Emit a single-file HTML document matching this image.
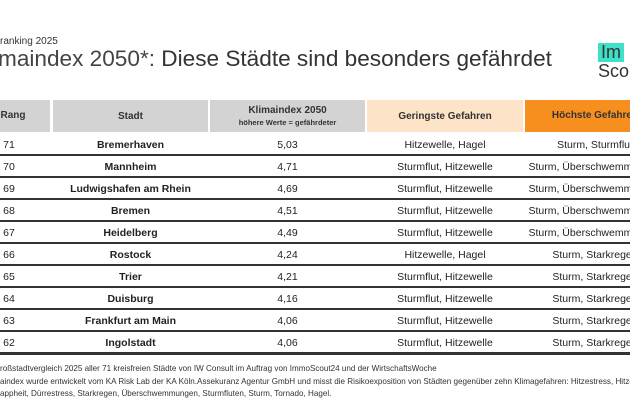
<!DOCTYPE html>
<html><head><meta charset="utf-8"><style>
html,body{margin:0;width:630px;height:412px;overflow:hidden;background:#fff}
#wrap{position:relative;width:630px;height:412px;overflow:hidden;font-family:"Liberation Sans",sans-serif;color:#222}
.a{position:absolute;white-space:nowrap}
.h{position:absolute;top:100px;height:32px;display:flex;flex-direction:column;align-items:center;justify-content:center;font-size:10px;font-weight:bold;color:#333;overflow:hidden}
.c{position:absolute;height:22px;line-height:22px;text-align:center;font-size:10.5px;white-space:nowrap;overflow:hidden}
.ln{position:absolute;left:0;width:630px;height:1.5px;background:#333}
.fn{position:absolute;left:0;width:630px;overflow:hidden;font-size:8.1px;color:#333;white-space:nowrap}
</style></head><body>
<div id="wrap">
<div class="a" style="left:0;top:36px;font-size:10px;color:#333">ranking 2025</div>
<div class="a" style="left:-2px;top:46px;font-size:22.6px;color:#333"><span style="color:#444">maindex 2050*: </span>Diese Städte sind besonders gefährdet</div>
<div class="a" style="left:598px;top:43px;width:32px;overflow:hidden;font-size:18px;line-height:19px;color:#333"><span style="background:#3fe0c8;padding:0 3px">Im</span><br>Sco</div>
<div id="hdr"></div>
<div id="tb"></div>
<div class="fn" style="top:364px">roßstadtvergleich 2025 aller 71 kreisfreien Städte von IW Consult im Auftrag von ImmoScout24 und der WirtschaftsWoche</div>
<div class="fn" style="top:377px">aindex wurde entwickelt vom KA Risk Lab der KA Köln.Assekuranz Agentur GmbH und misst die Risikoexposition von Städten gegenüber zehn Klimagefahren: Hitzestress, Hitze</div>
<div class="fn" style="top:389px">appheit, Dürrestress, Starkregen, Überschwemmungen, Sturmfluten, Sturm, Tornado, Hagel.</div>
</div>
<script>
const ranks=[71,70,69,68,67,66,65,64,63,62];
const cities=["Bremerhaven","Mannheim","Ludwigshafen am Rhein","Bremen","Heidelberg","Rostock","Trier","Duisburg","Frankfurt am Main","Ingolstadt"];
const scores=["5,03","4,71","4,69","4,51","4,49","4,24","4,21","4,16","4,06","4,06"];
const low=["Hitzewelle, Hagel","Sturmflut, Hitzewelle","Sturmflut, Hitzewelle","Sturmflut, Hitzewelle","Sturmflut, Hitzewelle","Hitzewelle, Hagel","Sturmflut, Hitzewelle","Sturmflut, Hitzewelle","Sturmflut, Hitzewelle","Sturmflut, Hitzewelle"];
const high=["Sturm, Sturmflut","Sturm, Überschwemmungen","Sturm, Überschwemmungen","Sturm, Überschwemmungen","Sturm, Überschwemmungen","Sturm, Starkregen","Sturm, Starkregen","Sturm, Starkregen","Sturm, Starkregen","Sturm, Starkregen"];
const cols=[[0,50],[53,155],[210,155],[367,156],[525,105]];
const hdrs=[["Rang",""],["Stadt",""],["Klimaindex 2050","höhere Werte = gefährdeter"],["Geringste Gefahren",""],["Höchste Gefahren",""]];
const hbg=["#d3d3d3","#d3d3d3","#d3d3d3","#fde3c8","#f78f1e"];
const hn=["header-rang","header-stadt","header-klimaindex","header-geringste","header-hoechste"];
function inner(v,i){
  if(i==0) return '<span style="position:absolute;top:0;left:-7px;width:40px;height:32px;line-height:32px;text-align:center">'+v+'</span>';
  if(i==4) return '<span style="position:absolute;top:0;left:0;width:140px;height:32px;line-height:32px;text-align:center">'+v+'</span>';
  return v;
}
const H=document.getElementById('hdr');
hdrs.forEach((h,i)=>{const d=document.createElement('div');d.className='h';


d.style.left=cols[i][0]+'px';d.style.width=cols[i][1]+'px';d.style.background=hbg[i];
if(i==0||i==4){d.style.display='block';d.innerHTML=inner(h[0],i);}
else d.innerHTML='<div>'+h[0]+'</div>'+(h[1]?'<div style="font-size:7.5px;margin-top:2px">'+h[1]+'</div>':'');
H.appendChild(d);});
const T=document.getElementById('tb');
ranks.forEach((r,k)=>{const y=132+k*22;
const vals=[r,cities[k],scores[k],low[k],high[k]];
vals.forEach((v,i)=>{const d=document.createElement('div');d.className='c';


d.style.top=(y+1.5)+'px';d.style.left=cols[i][0]+'px';d.style.width=cols[i][1]+'px';
if(i==1)d.style.fontWeight='bold';
if(i==0){d.style.left='0px';d.style.width='30px';d.innerHTML='<span style="position:absolute;left:-6px;width:30px;text-align:center">'+v+'</span>';}
else if(i==4)d.innerHTML='<span style="position:absolute;left:0;width:140px;text-align:center">'+v+'</span>';
else d.textContent=v;
T.appendChild(d);});
const l=document.createElement('div');l.className='ln';


l.style.top=(y+22)+'px';if(k==9)l.style.height='2.5px';T.appendChild(l);});
</script>
</body></html>
